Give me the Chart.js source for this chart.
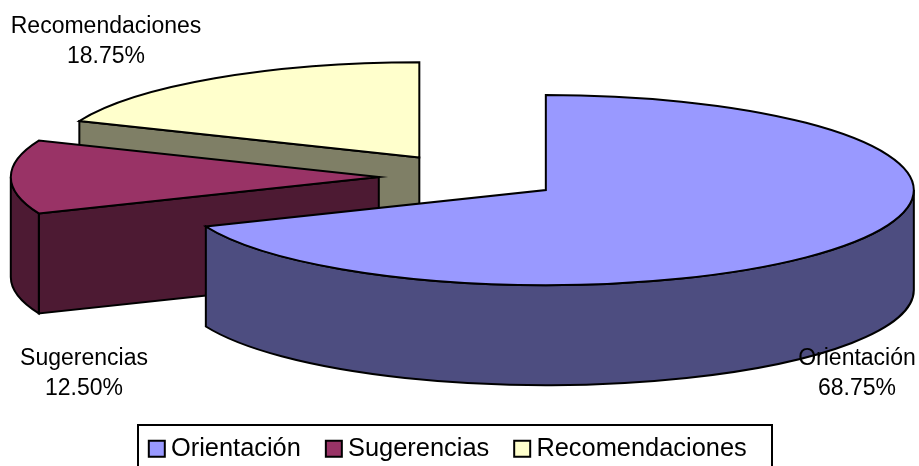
<!DOCTYPE html>
<html>
<head>
<meta charset="utf-8">
<style>
  html, body { margin: 0; padding: 0; background: #fff; }
  #wrap { width: 919px; height: 466px; }
</style>
<script src="https://cdn.jsdelivr.net/npm/chart.js@4/dist/chart.umd.min.js"></script>
</head>
<body>
<div id="wrap"><canvas id="pieChart"></canvas></div>
<script>
const categories = ['Orientación', 'Sugerencias', 'Recomendaciones'];
const values = [68.75, 12.5, 18.75];
const topColors = ['#9999FF', '#993366', '#FFFFCC'];
const sideColors = ['#4D4D80', '#4D1A33', '#7F7F66'];

// 3D look: chart.js has no tilt, so the arcs are redrawn squashed and extruded
const centerX = 470, centerY = 177;
const squash = 0.2585, depth = 100, explode = 91.2;
const lineW = 2;

function pieces(chart) {
    return chart.getDatasetMeta(0).data.map(function(arc, i) {
        const p = arc.getProps(['startAngle', 'endAngle', 'outerRadius']);
        const mid = (p.startAngle + p.endAngle) / 2;
        return {
            i: i,
            a0: p.startAngle,
            a1: p.endAngle,
            rx: p.outerRadius,
            ry: p.outerRadius * squash,
            x: centerX + explode * Math.cos(mid),
            y: centerY + explode * squash * Math.sin(mid)
        };
    });
}

function paint(ctx, color) {
    ctx.fillStyle = color;
    ctx.fill();
    ctx.stroke();
}

function drawCut(ctx, s, a) {
    const ox = s.x + s.rx * Math.cos(a), oy = s.y + s.ry * Math.sin(a);
    ctx.beginPath();
    ctx.moveTo(s.x, s.y);
    ctx.lineTo(ox, oy);
    ctx.lineTo(ox, oy + depth);
    ctx.lineTo(s.x, s.y + depth);
    ctx.closePath();
    paint(ctx, sideColors[s.i]);
}

function drawSlice(ctx, s) {
    // cut faces turned to the viewer
    if (Math.cos(s.a0) < -0.001) drawCut(ctx, s, s.a0);
    if (Math.cos(s.a1) > 0.001) drawCut(ctx, s, s.a1);
    // outer wall, front half only
    const lo = Math.max(s.a0, 0), hi = Math.min(s.a1, Math.PI);
    if (hi > lo) {
        ctx.beginPath();
        ctx.ellipse(s.x, s.y, s.rx, s.ry, 0, lo, hi);
        ctx.ellipse(s.x, s.y + depth, s.rx, s.ry, 0, hi, lo, true);
        ctx.closePath();
        paint(ctx, sideColors[s.i]);
    }
    // top
    ctx.beginPath();
    ctx.moveTo(s.x, s.y);
    ctx.ellipse(s.x, s.y, s.rx, s.ry, 0, s.a0, s.a1);
    ctx.closePath();
    paint(ctx, topColors[s.i]);
}

const pie3d = {
    id: 'pie3d',
    afterLayout: function(chart) {
        // legend sits in a thin strip at the bottom, left of centre
        const l = chart.legend;
        const h = l.bottom - l.top;
        l.top = 438 - h / 2;
        l.bottom = l.top + h;
        l.left -= 8.5;
        l.right -= 8.5;
    },
    beforeDatasetsDraw: function(chart) {
        const ctx = chart.ctx;
        ctx.save();
        ctx.lineWidth = lineW;
        ctx.lineJoin = 'miter';
        ctx.strokeStyle = '#000';
        const order = [2, 1, 0];
        const list = pieces(chart);
        order.forEach(function(i) { drawSlice(ctx, list[i]); });
        ctx.restore();
        return false;
    },
    afterDraw: function(chart) {
        const ctx = chart.ctx;
        ctx.save();
        ctx.strokeStyle = '#000';
        ctx.lineWidth = 2;
        ctx.strokeRect(138, 425, 634, 60);
        ctx.fillStyle = '#000';
        ctx.font = '23px "Liberation Sans", Arial, sans-serif';
        ctx.textAlign = 'center';
        ctx.textBaseline = 'middle';
        const spots = [[857, 359], [84, 359], [106, 27]];
        categories.forEach(function(name, i) {
            ctx.fillText(name, spots[i][0], spots[i][1]);
            ctx.fillText(values[i].toFixed(2) + '%', spots[i][0], spots[i][1] + 30);
        });
        ctx.restore();
    }
};

new Chart(document.getElementById('pieChart').getContext('2d'), {
    type: 'pie',
    data: {
        labels: categories,
        datasets: [{
            data: values,
            backgroundColor: topColors,
            borderColor: '#000',
            borderWidth: 2
        }]
    },
    options: {
        responsive: true,
        maintainAspectRatio: false,
        animation: false,
        radius: 368,
        events: [],
        plugins: {
            tooltip: { enabled: false },
            legend: {
                position: 'bottom',
                labels: {
                    usePointStyle: true,
                    pointStyle: 'rect',
                    boxWidth: 3,
                    boxHeight: 16,
                    padding: 31.5,
                    color: '#000',
                    font: { family: '"Liberation Sans", Arial, sans-serif', size: 25.4 }
                }
            }
        }
    },
    plugins: [pie3d]
});
</script>
</body>
</html>
